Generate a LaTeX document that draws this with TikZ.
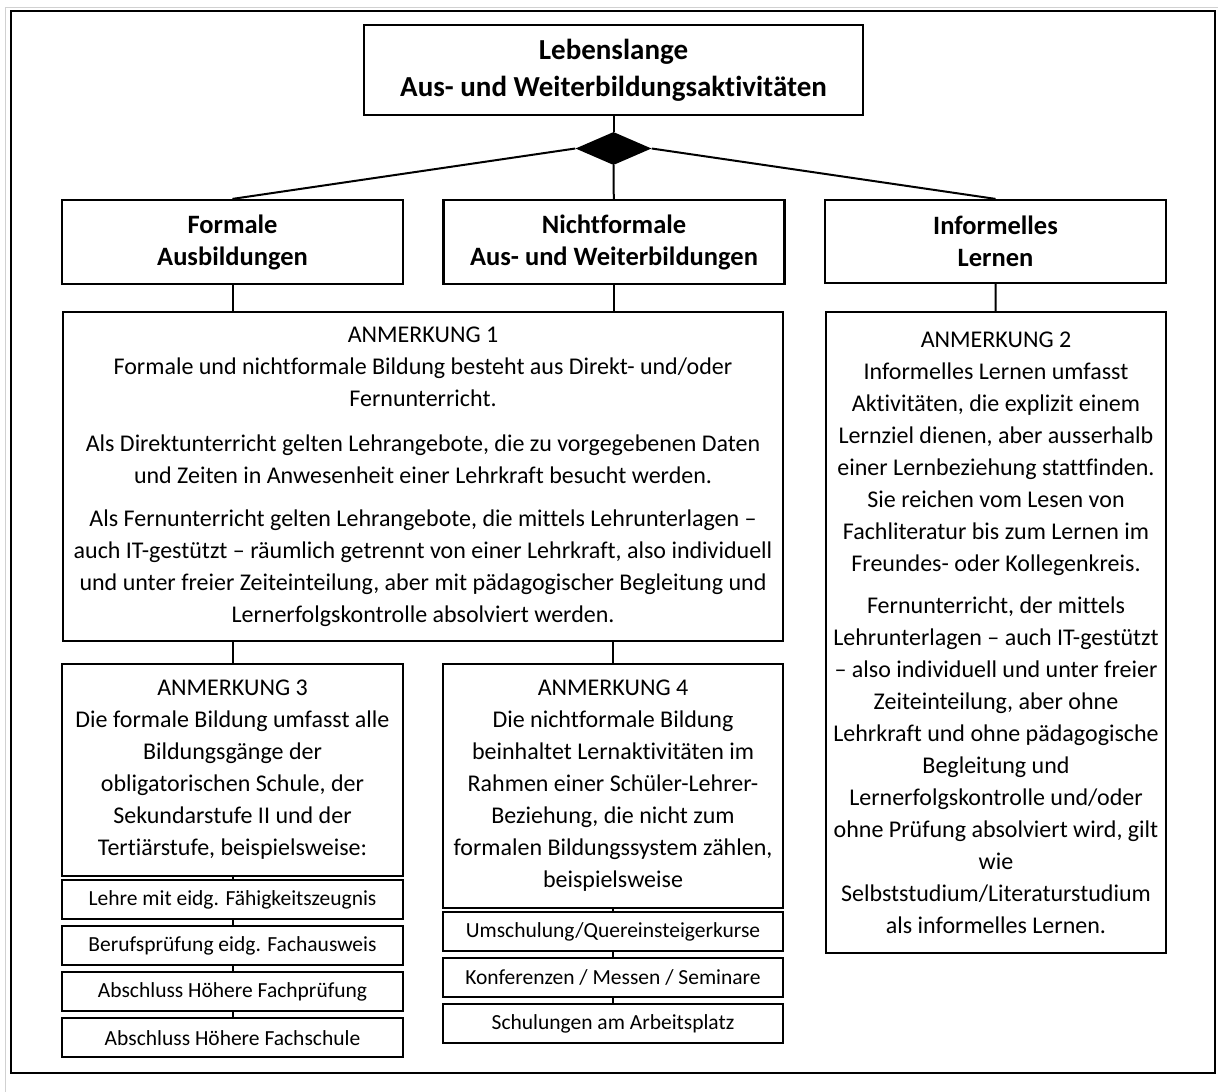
\documentclass[tikz,border=0pt]{standalone}
\usepackage{fontspec}
\setmainfont{Carlito}[Ligatures=CommonOff]
\usepackage{tikz}
\usetikzlibrary{positioning,shapes.geometric}

\begin{document}
\begin{tikzpicture}[x=1pt,y=-1pt,node distance=4.8pt,
  head/.style={draw,line width=2.2pt,align=center,inner sep=0pt,font=\bfseries\fontsize{26.5}{32}\selectfont,minimum width=341pt,minimum height=84pt},
  note/.style={draw,line width=2.2pt,align=center,inner sep=0pt,font=\fontsize{24}{32}\selectfont},
  item/.style={draw,line width=2.2pt,inner sep=0pt,font=\fontsize{21.5}{25}\selectfont,minimum width=341pt,minimum height=39pt},
  link/.style={line width=2pt}]
\useasboundingbox (0,0) rectangle (1227,1092);
\draw[black!18,line width=1pt] (5,1092) -- (5,7) -- (1218,7);
\draw[line width=2.4pt] (11,11) rectangle (1215,1073);
\node[draw,line width=2.2pt,align=center,inner sep=0pt,font=\bfseries\fontsize{29}{37}\selectfont,minimum width=499pt,minimum height=90pt] (L) at (613.5,70) {Lebenslange\\Aus- und Weiterbildungsaktivitäten};
\node[diamond,fill=black,inner sep=0pt,minimum width=76pt,minimum height=33pt] (D) at (613.5,148.5) {};
\node[head] (F) at (232.5,242) {Formale\\Ausbildungen};
\node[head] (N) at (614,242) {Nichtformale\\Aus- und Weiterbildungen};
\node[head,minimum height=83pt] (I) at (995.5,241.5) {Informelles\\Lernen};
\node[note,minimum width=720pt,minimum height=329pt] (A1) at (423,476.5) {ANMERKUNG 1\\Formale und nichtformale Bildung besteht aus Direkt- und/oder\\Fernunterricht.\\[13pt]Als Direktunterricht gelten Lehrangebote, die zu vorgegebenen Daten\\und Zeiten in Anwesenheit einer Lehrkraft besucht werden.\\[11pt]Als Fernunterricht gelten Lehrangebote, die mittels Lehrunterlagen –\\auch IT-gestützt – räumlich getrennt von einer Lehrkraft, also individuell\\und unter freier Zeiteinteilung, aber mit pädagogischer Begleitung und\\Lernerfolgskontrolle absolviert werden.};
\node[note,minimum width=340pt,minimum height=641pt] (A2) at (996,632.5) {ANMERKUNG 2\\Informelles Lernen umfasst\\Aktivitäten, die explizit einem\\Lernziel dienen, aber ausserhalb\\einer Lernbeziehung stattfinden.\\Sie reichen vom Lesen von\\Fachliteratur bis zum Lernen im\\Freundes- oder Kollegenkreis.\\[10pt]Fernunterricht, der mittels\\Lehrunterlagen – auch IT-gestützt\\– also individuell und unter freier\\Zeiteinteilung, aber ohne\\Lehrkraft und ohne pädagogische\\Begleitung und\\Lernerfolgskontrolle und/oder\\ohne Prüfung absolviert wird, gilt\\wie\\Selbststudium/Literaturstudium\\als informelles Lernen.};
\node[note,minimum width=341pt,minimum height=212pt] (A3) at (232.5,770) {ANMERKUNG 3\\Die formale Bildung umfasst alle\\Bildungsgänge der\\obligatorischen Schule, der\\Sekundarstufe II und der\\Tertiärstufe, beispielsweise:};
\node[note,minimum width=340pt,minimum height=244pt] (A4) at (613,786) {ANMERKUNG 4\\Die nichtformale Bildung\\beinhaltet Lernaktivitäten im\\Rahmen einer Schüler-Lehrer-\\Beziehung, die nicht zum\\formalen Bildungssystem zählen,\\beispielsweise};
\node[item,below=2pt of A3] (F1) {Lehre mit eidg. Fähigkeitszeugnis};
\node[item,below=of F1] (F2) {Berufsprüfung eidg. Fachausweis};
\node[item,below=of F2] (F3) {Abschluss Höhere Fachprüfung};
\node[item,below=of F3] (F4) {Abschluss Höhere Fachschule};
\node[item,minimum width=340pt,below=2pt of A4] (N1) {Umschulung/Quereinsteigerkurse};
\node[item,minimum width=340pt,below=of N1] (N2) {Konferenzen / Messen / Seminare};
\node[item,minimum width=340pt,below=of N2] (N3) {Schulungen am Arbeitsplatz};
\draw[link] (L) -- (D); \draw[link] (D) -- (N);
\draw[link] (D.west) -- (F.north); \draw[link] (D.east) -- (I.north);
\draw[link] (F) -- (F |- A1.north); \draw[link] (N) -- (N |- A1.north);
\draw[link] (I) -- (A2);
\draw[link] (A3 |- A1.south) -- (A3); \draw[link] (A4 |- A1.south) -- (A4);
\draw[link] (A3) -- (F1); \draw[link] (F1) -- (F2); \draw[link] (F2) -- (F3); \draw[link] (F3) -- (F4);
\draw[link] (A4) -- (N1); \draw[link] (N1) -- (N2); \draw[link] (N2) -- (N3);
\end{tikzpicture}
\end{document}
